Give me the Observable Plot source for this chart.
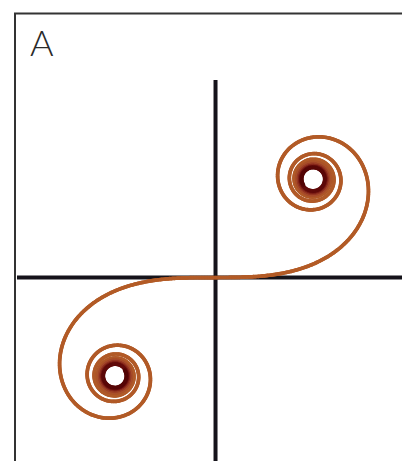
<!DOCTYPE html>
<html>
<head>
<meta charset="utf-8">
<script src="https://cdn.jsdelivr.net/npm/d3@7"></script>
<script src="https://cdn.jsdelivr.net/npm/@observablehq/plot@0.6"></script>
<style>
  html, body { margin: 0; padding: 0; background: #fff; overflow: hidden; }
  #chart { width: 402px; height: 461px; overflow: hidden; }
  #chart svg { max-width: none !important; height: 492px !important; width: 430px !important; display: block; }
</style>
</head>
<body>
<div id="chart"></div>
<script>
// Euler (Cornu) spiral: x = C(t), y = S(t), the Fresnel integrals
const panelLabel = ["A"];
const paramEnd = [5.6];          // |t| at which the curve stops
const axisExtent = [-1, 1];      // reference axes through the origin
const xDomain = [-1.005, 1.025];
const yDomain = [-1.02, 1.34];

// numeric integration of cos(pi u^2 / 2), sin(pi u^2 / 2)
function cornu(tEnd, dt, every) {
  const n = Math.round(tEnd / dt);
  let C = 0, S = 0;
  const pts = [{t: 0, x: 0, y: 0}];
  for (let i = 1; i <= n; i++) {
    const u = (i - 0.5) * dt;
    const ph = Math.PI * u * u / 2;
    C += Math.cos(ph) * dt;
    S += Math.sin(ph) * dt;
    if (i % every === 0) pts.push({t: i * dt, x: C, y: S});
  }
  return pts;
}

const half = cornu(paramEnd[0], 0.001, 8);
const segments = [];
for (const sign of [1, -1]) {
  for (let i = 1; i < half.length; i++) {
    const a = half[i - 1], b = half[i];
    segments.push({
      t: sign * b.t,
      x1: sign * a.x, y1: sign * a.y,
      x2: sign * b.x, y2: sign * b.y
    });
  }
}
segments.sort((p, q) => Math.abs(p.t) - Math.abs(q.t));

const plot = Plot.plot({
  width: 430,
  height: 492,
  marginLeft: 14.5,
  marginTop: 13,
  marginRight: 13.5,
  marginBottom: 14,
  x: {domain: xDomain, axis: null},
  y: {domain: yDomain, axis: null},
  color: {
    type: "linear",
    domain: [0, 3.4, 4.1, 4.7, 5.2, 5.6],
    range: ["#b35b26", "#b05a28", "#a3472a", "#88281c", "#650c0c", "#520404"]
  },
  marks: [
    Plot.frame({stroke: "#333", strokeWidth: 2}),
    Plot.ruleY([0], {x1: axisExtent[0], x2: axisExtent[1], dx: 1.5, stroke: "#15131a", strokeWidth: 4}),
    Plot.ruleX([0], {y1: axisExtent[0], y2: axisExtent[1], dx: 1.5, stroke: "#15131a", strokeWidth: 4}),
    Plot.link(segments, {
      x1: "x1", y1: "y1", x2: "x2", y2: "y2",
      stroke: d => Math.abs(d.t),
      strokeWidth: 3.7,
      strokeLinecap: "round"
    }),
    Plot.text(panelLabel, {
      text: d => d,
      frameAnchor: "top-left",
      dx: 15, dy: 17,
      fontSize: 36,
      fontWeight: 300,
      fontFamily: "Lato, 'Open Sans', sans-serif",
      fill: "#2a2a2a",
      textAnchor: "start",
      lineAnchor: "top"
    })
  ]
});
plot.style.maxWidth = "none";
document.getElementById("chart").appendChild(plot);
</script>
</body>
</html>
